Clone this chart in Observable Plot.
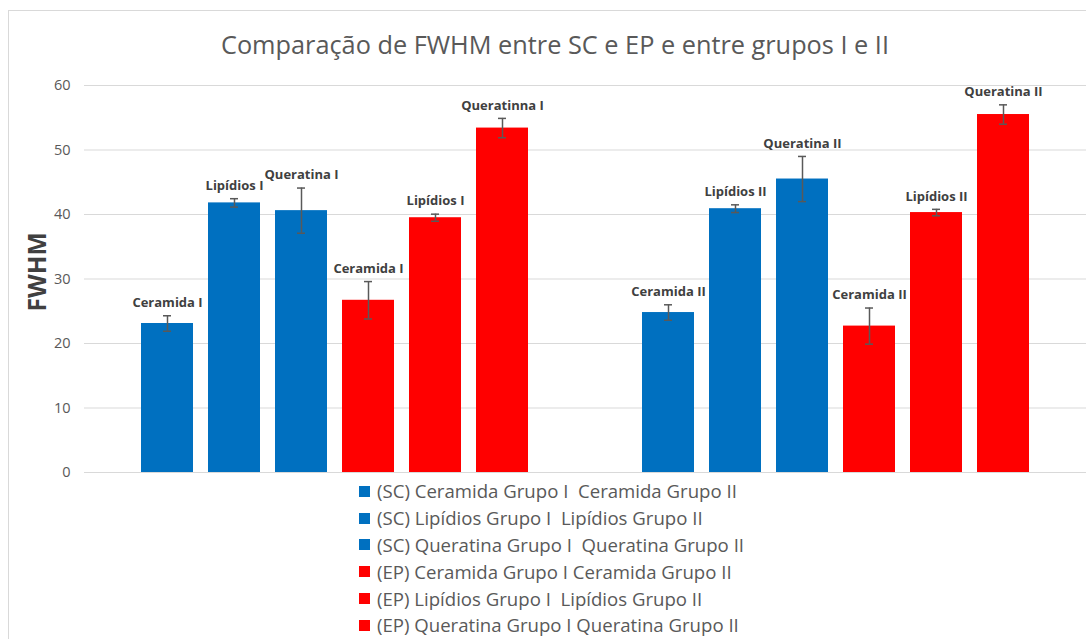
<!DOCTYPE html>
<html>
<head>
<meta charset="utf-8">
<script src="https://cdn.jsdelivr.net/npm/d3@7"></script>
<script src="https://cdn.jsdelivr.net/npm/@observablehq/plot@0.6"></script>
<style>
  html, body { margin: 0; padding: 0; background: #fff; }
  #wrap { position: relative; width: 1086px; height: 639px; overflow: hidden; font-family: "Open Sans", sans-serif; }
  #frame { position: absolute; left: 8px; top: 10px; width: 1100px; height: 700px; border: 1px solid #d9d9d9; box-sizing: border-box; }
  #title { position: absolute; left: 0; top: 25px; width: 1110px; text-align: center; font-size: 25.3px; line-height: 38px; color: #595959; white-space: nowrap; }
  #ylabel { position: absolute; left: 37px; top: 272px; transform: translate(-50%, -50%) rotate(-90deg); font-size: 24.5px; font-weight: bold; color: #404040; white-space: nowrap; line-height: 30px; }
  #chart { position: absolute; left: 0; top: 70px; }
  #legend { position: absolute; left: 359px; top: 478px; }
  .row { height: 26.8px; display: flex; align-items: center; font-size: 18.6px; line-height: 22px; color: #595959; white-space: pre; }
  .sw { width: 11px; height: 11px; margin-right: 7px; flex: none; }
</style>
</head>
<body>
<div id="wrap">
  <div id="frame"></div>
  <div id="title">Comparação de FWHM entre SC e EP e entre grupos I e II</div>
  <div id="chart"></div>
  <div id="ylabel">FWHM</div>
  <div id="legend"></div>
</div>
<script>
const groups = ["I", "II"];
const series = ["SC Ceramida", "SC Lipídios", "SC Queratina", "EP Ceramida", "EP Lipídios", "EP Queratina"];
const seriesColors = ["#0070C0", "#0070C0", "#0070C0", "#FF0000", "#FF0000", "#FF0000"];
const valuesI = [23.1, 41.8, 40.6, 26.7, 39.5, 53.4];
const errorsI = [1.2, 0.65, 3.5, 2.9, 0.55, 1.5];
const valuesII = [24.8, 40.9, 45.5, 22.7, 40.3, 55.5];
const errorsII = [1.2, 0.6, 3.5, 2.8, 0.5, 1.5];
const labelsI = ["Ceramida I", "Lipídios I", "Queratina I", "Ceramida I", "Lipídios I", "Queratinna I"];
const labelsII = ["Ceramida II", "Lipídios II", "Queratina II", "Ceramida II", "Lipídios II", "Queratina II"];
const yTicks = [0, 10, 20, 30, 40, 50, 60];
const legendLabels = [
  "(SC) Ceramida Grupo I  Ceramida Grupo II",
  "(SC) Lipídios Grupo I  Lipídios Grupo II",
  "(SC) Queratina Grupo I  Queratina Grupo II",
  "(EP) Ceramida Grupo I Ceramida Grupo II",
  "(EP) Lipídios Grupo I  Lipídios Grupo II",
  "(EP) Queratina Grupo I Queratina Grupo II"
];

const data = [];
series.forEach((s, i) => {
  data.push({group: groups[0], series: s, value: valuesI[i], err: errorsI[i], label: labelsI[i]});
  data.push({group: groups[1], series: s, value: valuesII[i], err: errorsII[i], label: labelsII[i]});
});

const chart = Plot.plot({
  width: 1086,
  height: 410,
  marginTop: 15,
  marginBottom: 8,
  marginLeft: 84,
  marginRight: 0,
  style: {fontFamily: "Open Sans, sans-serif", background: "transparent"},
  fx: {domain: groups, padding: 0, axis: null},
  x: {domain: series, paddingInner: 0.224, paddingOuter: 0.85, axis: null},
  y: {domain: [0, 60], ticks: yTicks, label: null, tickSize: 0, tickPadding: 14},
  color: {domain: series, range: seriesColors},
  marks: [
    Plot.gridY(yTicks, {stroke: "#d9d9d9", strokeOpacity: 1, strokeWidth: 1}),
    Plot.axisY({ticks: yTicks, tickSize: 0, tickPadding: 14, fontSize: 14.5, fill: "#595959", label: null}),
    Plot.barY(data, {fx: "group", x: "series", y: "value", fill: "series"}),
    Plot.ruleX(data, {fx: "group", x: "series", y1: d => d.value - d.err, y2: d => d.value + d.err, stroke: "#595959", strokeWidth: 1.5}),
    Plot.tickY(data, {fx: "group", x: "series", y: d => d.value + d.err, stroke: "#595959", strokeWidth: 1.5, insetLeft: 22, insetRight: 22}),
    Plot.tickY(data, {fx: "group", x: "series", y: d => d.value - d.err, stroke: "#595959", strokeWidth: 1.5, insetLeft: 22, insetRight: 22}),
    Plot.text(data, {fx: "group", x: "series", y: d => d.value + d.err, text: "label", dy: -13, fontWeight: "bold", fontSize: 13, fill: "#404040"})
  ]
});
document.getElementById("chart").appendChild(chart);

const legend = document.getElementById("legend");
legendLabels.forEach((t, i) => {
  const row = document.createElement("div");
  row.className = "row";
  const sw = document.createElement("span");
  sw.className = "sw";
  sw.style.background = seriesColors[i];
  const tx = document.createElement("span");
  tx.textContent = t;
  row.appendChild(sw);
  row.appendChild(tx);
  legend.appendChild(row);
});
</script>
</body>
</html>
